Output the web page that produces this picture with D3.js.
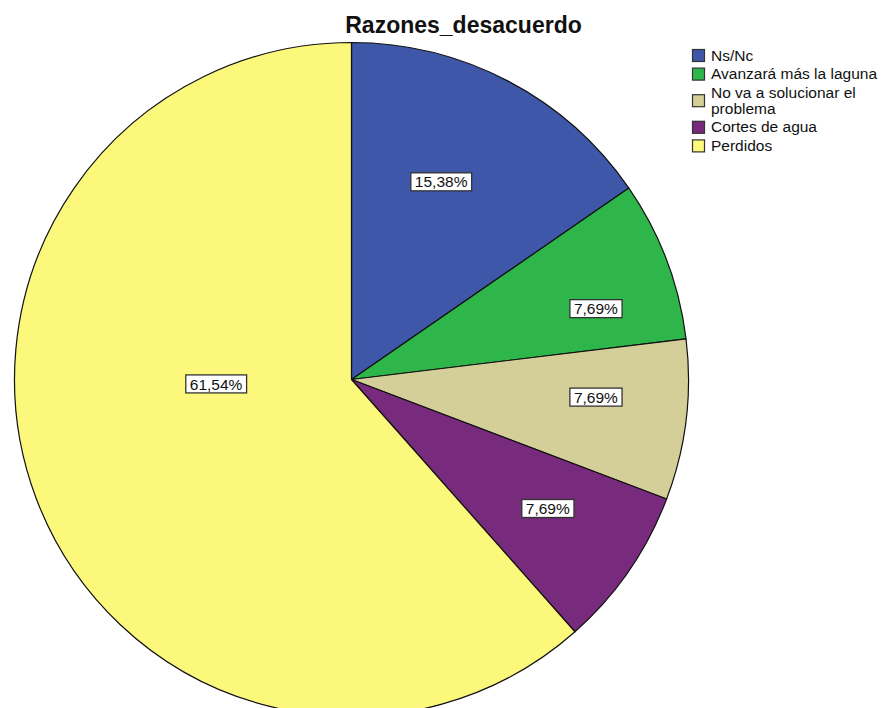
<!DOCTYPE html>
<html>
<head>
<meta charset="utf-8">
<script src="https://cdn.jsdelivr.net/npm/d3@7/dist/d3.min.js"></script>
<style>
  html, body { margin: 0; padding: 0; background: #fff; }
  svg { display: block; font-family: "Liberation Sans", Arial, sans-serif; }
</style>
</head>
<body>
<svg id="chart" width="890" height="708"></svg>
<script>
// ---- data ----
const title = "Razones_desacuerdo";
const categories = ["Ns/Nc", "Avanzará más la laguna", "No va a solucionar el problema", "Cortes de agua", "Perdidos"];
const legendLines = [["Ns/Nc"], ["Avanzará más la laguna"], ["No va a solucionar el", "problema"], ["Cortes de agua"], ["Perdidos"]];
const counts = [2, 1, 1, 1, 8];
const percentLabels = ["15,38%", "7,69%", "7,69%", "7,69%", "61,54%"];
const colors = ["#3e57a9", "#2eb64a", "#d4ce98", "#782a7d", "#fbf87c"];

// ---- layout ----
const W = 890, H = 708;
const cx = 351.5, cy = 379.5, R = 337;
// label placement: radius fraction and angular shift (deg) from the slice mid-angle
const labelFrac = [0.644, 0.755, 0.727, 0.697, 0.402];
const labelShift = [-3.3, 4.6, -2.8, -1.3, 18.9];

const svg = d3.select("#chart");

svg.append("text")
  .attr("x", 463.5).attr("y", 33)
  .attr("text-anchor", "middle")
  .attr("font-weight", "bold")
  .attr("font-size", 23)
  .attr("fill", "#111")
  .text(title);

const pie = d3.pie().sort(null).value(d => d)(counts);
const arc = d3.arc().innerRadius(0).outerRadius(R);

const g = svg.append("g").attr("transform", `translate(${cx},${cy})`);

g.selectAll("path.slice")
  .data(pie)
  .join("path")
  .attr("class", "slice")
  .attr("d", arc)
  .attr("fill", (d, i) => colors[i])
  .attr("stroke", "#111")
  .attr("stroke-width", 1.2)
  .attr("stroke-linejoin", "round");

// labels
const lab = g.selectAll("g.lab")
  .data(pie)
  .join("g")
  .attr("class", "lab")
  .attr("transform", (d, i) => {
    const a = (d.startAngle + d.endAngle) / 2 + labelShift[i] * Math.PI / 180;
    const r = R * labelFrac[i];
    return `translate(${r * Math.sin(a)},${-r * Math.cos(a)})`;
  });

lab.each(function(d, i) {
  const sel = d3.select(this);
  const t = sel.append("text")
    .attr("text-anchor", "middle")
    .attr("dy", "0.36em")
    .attr("font-size", 15.5)
    .attr("fill", "#111")
    .text(percentLabels[i]);
  const bb = t.node().getBBox();
  sel.insert("rect", "text")
    .attr("x", bb.x - 4).attr("y", -9)
    .attr("width", bb.width + 8).attr("height", 18)
    .attr("fill", "#fff")
    .attr("stroke", "#333")
    .attr("stroke-width", 1.3);
});

// legend
const legend = svg.append("g");
let y = 49;
const lineH = 16, itemGap = 18.6;
legendLines.forEach((lines, i) => {
  const blockH = itemGap + (lines.length - 1) * lineH;
  const swY = y + (lines.length - 1) * lineH / 2;
  legend.append("rect")
    .attr("x", 692.5).attr("y", swY + 0.5)
    .attr("width", 12).attr("height", 12)
    .attr("fill", colors[i])
    .attr("stroke", "#333")
    .attr("stroke-width", 1.2);
  lines.forEach((ln, k) => {
    legend.append("text")
      .attr("x", 711)
      .attr("y", y + 11.5 + k * lineH)
      .attr("font-size", 15.5)
      .attr("fill", "#111")
      .text(ln);
  });
  y += blockH;
});
</script>
</body>
</html>
